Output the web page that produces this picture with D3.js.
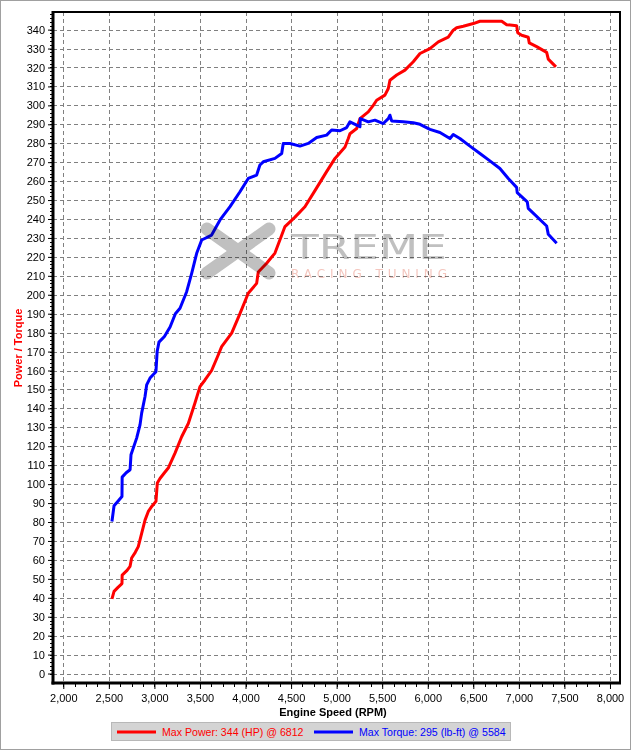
<!DOCTYPE html>
<html lang="en">
<head>
<meta charset="utf-8">
<title>dyno</title>
<script src="https://cdn.jsdelivr.net/npm/d3@7"></script>
<style>
  body { margin: 0; background: #fff; }
  svg { display: block; font-family: "Liberation Sans", Arial, sans-serif; }
  .tick text { font-size: 11px; fill: #000; }
  .grid line { stroke: #808080; stroke-dasharray: 4,3; }
</style>
</head>
<body>
<div id="chart"></div>
<script>
// engine speed (rpm) and power (hp)
var powerRpm = [2534, 2557, 2600, 2644, 2646, 2700, 2733, 2750, 2790, 2823, 2860, 2897, 2933, 2975, 3017, 3032, 3061, 3110, 3152, 3226,
  3299, 3372, 3445, 3500, 3555, 3628, 3690, 3738, 3848, 3939, 4030, 4122, 4140, 4232, 4323, 4378, 4433, 4543, 4652, 4762,
  4890, 4982, 5092, 5128, 5146, 5220, 5256, 5347, 5402, 5439, 5530, 5567, 5585, 5659, 5750, 5841, 5915, 6024, 6116, 6225,
  6280, 6317, 6390, 6500, 6573, 6812, 6866, 6976, 6987, 7031, 7103, 7114, 7195, 7305, 7323, 7407];
var powerHp = [39.4, 43.4, 45.5, 47.5, 52, 54.5, 56.6, 61, 64, 67, 74, 81, 85.6, 88.5, 90.9, 100.6, 103, 106, 108.5, 116.4,
  125, 132, 142.8, 151.5, 155, 160, 167, 172.6, 179.7, 190, 200.8, 206, 212, 216.6, 222, 229, 236, 241, 246.5, 255,
  265, 272, 278, 282.5, 285, 287.8, 293, 296.6, 300, 302.7, 305.4, 308.9, 313.3, 316, 318.6, 323, 327.4, 330, 333.5, 336,
  339.7, 341, 341.8, 343.2, 344.4, 344.4, 342.6, 342, 338.4, 337, 336, 333, 331, 328, 324.4, 320.3];

// engine speed (rpm) and torque (lb-ft)
var torqueRpm = [2534, 2557, 2600, 2644, 2646, 2690, 2733, 2743, 2805, 2842, 2860, 2897, 2915, 2952, 3017, 3030, 3050, 3110, 3172, 3230,
  3281, 3354, 3409, 3464, 3519, 3628, 3720, 3830, 3939, 4030, 4122, 4158, 4195, 4323, 4397, 4414, 4488, 4598, 4689, 4781,
  4890, 4945, 5037, 5110, 5146, 5220, 5256, 5260, 5347, 5420, 5512, 5567, 5585, 5604, 5731, 5841, 5915, 6024, 6134, 6244,
  6280, 6353, 6463, 6573, 6682, 6792, 6884, 6975, 6982, 7092, 7103, 7305, 7323, 7415];
var torqueLbft = [80.3, 88.6, 91, 93.5, 103.7, 106, 107.6, 115.5, 124.3, 131.3, 137.5, 146.3, 152.4, 156, 159.4, 170, 175, 178, 183, 190,
  192.9, 201.6, 211.3, 221.9, 228.9, 231.5, 239.5, 246.5, 254.4, 261.4, 263.2, 268.5, 270.2, 272, 274.6, 279.9, 279.9, 278.5, 279.9, 283,
  284.3, 287, 286.6, 288.3, 291.3, 289.6, 288.7, 293, 291.3, 292.2, 290.4, 293, 294.8, 291.8, 291.3, 290.8, 290, 287.3, 285.7, 282.5,
  284.6, 282.5, 278.5, 274.6, 270.7, 266.7, 261.4, 256.7, 253.9, 249.1, 245.6, 236.3, 231.9, 227.2];

var xTicks = [2000, 2500, 3000, 3500, 4000, 4500, 5000, 5500, 6000, 6500, 7000, 7500, 8000];
var yTicks = d3.range(0, 341, 10);

var legendLabels = ["Max Power: 344 (HP) @ 6812", "Max Torque: 295 (lb-ft) @ 5584"];
var seriesColors = ["#ff0000", "#0000ff"];

var w = 631, h = 750;
var plotLeft = 53, plotRight = 620, plotTop = 12, plotBottom = 683;

var svg = d3.select("#chart").append("svg")
  .attr("width", w)
  .attr("height", h);

// outer frame
svg.append("rect")
  .attr("x", 0.5).attr("y", 0.5)
  .attr("width", w - 1).attr("height", h - 1)
  .attr("fill", "#fff")
  .attr("stroke", "#a0a0a0");

var xScale = d3.scaleLinear().domain([1887, 8110]).range([plotLeft, plotRight]);
var yScale = d3.scaleLinear().domain([-5, 349.3]).range([plotBottom, plotTop]);

// grid
svg.append("g").attr("class", "grid")
  .selectAll("line").data(xTicks).enter().append("line")
  .attr("x1", function(d) { return Math.round(xScale(d)) + 0.5; })
  .attr("x2", function(d) { return Math.round(xScale(d)) + 0.5; })
  .attr("y1", plotTop).attr("y2", plotBottom);

svg.append("g").attr("class", "grid")
  .selectAll("line").data(yTicks).enter().append("line")
  .attr("y1", function(d) { return Math.round(yScale(d)) + 0.5; })
  .attr("y2", function(d) { return Math.round(yScale(d)) + 0.5; })
  .attr("x1", plotLeft).attr("x2", plotRight);

// minor ticks
svg.append("g")
  .selectAll("line").data(d3.range(0, 349, 2)).enter().append("line")
  .attr("x1", plotLeft - 3).attr("x2", plotLeft)
  .attr("y1", function(d) { return Math.round(yScale(d)) + 0.5; })
  .attr("y2", function(d) { return Math.round(yScale(d)) + 0.5; })
  .attr("stroke", "#000");

svg.append("g")
  .selectAll("line").data(d3.range(2000, 8101, 125)).enter().append("line")
  .attr("y1", plotBottom).attr("y2", plotBottom + 4)
  .attr("x1", function(d) { return Math.round(xScale(d)) + 0.5; })
  .attr("x2", function(d) { return Math.round(xScale(d)) + 0.5; })
  .attr("stroke", "#000");

// axes
var xAxis = d3.axisBottom(xScale).tickValues(xTicks).tickFormat(d3.format(",")).tickSize(6).tickPadding(5);
var yAxis = d3.axisLeft(yScale).tickValues(yTicks).tickSize(5).tickPadding(3);

var gx = svg.append("g")
  .attr("transform", "translate(0," + plotBottom + ")")
  .call(xAxis);
gx.select(".domain").remove();
gx.selectAll(".tick text").attr("font-family", null).attr("font-size", null);

var gy = svg.append("g")
  .attr("transform", "translate(" + plotLeft + ",0)")
  .call(yAxis);
gy.select(".domain").remove();
gy.selectAll(".tick text").attr("font-family", null).attr("font-size", null);

// curves
var line = d3.line()
  .x(function(d) { return xScale(d[0]); })
  .y(function(d) { return yScale(d[1]); });

var powerData = d3.zip(powerRpm, powerHp);
var torqueData = d3.zip(torqueRpm, torqueLbft);

svg.append("path")
  .datum(powerData)
  .attr("d", line)
  .attr("fill", "none")
  .attr("stroke", seriesColors[0])
  .attr("stroke-width", 3)
  .attr("stroke-linejoin", "round");

svg.append("path")
  .datum(torqueData)
  .attr("d", line)
  .attr("fill", "none")
  .attr("stroke", seriesColors[1])
  .attr("stroke-width", 3)
  .attr("stroke-linejoin", "round");

// watermark
var wm = svg.append("g").style("mix-blend-mode", "multiply");
wm.append("line")
  .attr("x1", 207).attr("y1", 229).attr("x2", 269).attr("y2", 273)
  .attr("stroke", "#c0c0c0").attr("stroke-width", 13).attr("stroke-linecap", "round");
wm.append("line")
  .attr("x1", 269).attr("y1", 229).attr("x2", 207).attr("y2", 273)
  .attr("stroke", "#c0c0c0").attr("stroke-width", 13).attr("stroke-linecap", "round");
wm.append("text")
  .attr("x", 291).attr("y", 259)
  .attr("textLength", 156).attr("lengthAdjust", "spacingAndGlyphs")
  .attr("font-family", "DejaVu Sans")
  .attr("font-size", 34)
  .attr("fill", "#c0c0c0")
  .text("TREME");
wm.append("text")
  .attr("x", 291).attr("y", 278)
  .attr("textLength", 156).attr("lengthAdjust", "spacing")
  .attr("font-family", "DejaVu Sans")
  .attr("font-size", 12)
  .attr("fill", "#f4c6be")
  .text("RACING TUNING");

// plot frame
svg.append("line").attr("x1", plotLeft).attr("x2", plotLeft).attr("y1", plotTop - 1).attr("y2", plotBottom + 1.5)
  .attr("stroke", "#000").attr("stroke-width", 3);
svg.append("line").attr("x1", plotLeft - 1.5).attr("x2", plotRight + 1).attr("y1", plotBottom).attr("y2", plotBottom)
  .attr("stroke", "#000").attr("stroke-width", 3);
svg.append("line").attr("x1", plotLeft).attr("x2", plotRight + 1).attr("y1", plotTop).attr("y2", plotTop)
  .attr("stroke", "#000").attr("stroke-width", 2);
svg.append("line").attr("x1", plotRight).attr("x2", plotRight).attr("y1", plotTop).attr("y2", plotBottom)
  .attr("stroke", "#000").attr("stroke-width", 2);

// axis titles
svg.append("text")
  .attr("x", 333).attr("y", 716)
  .attr("text-anchor", "middle")
  .attr("font-size", 11)
  .attr("font-weight", "bold")
  .text("Engine Speed (RPM)");

svg.append("text")
  .attr("transform", "translate(22," + 348 + ") rotate(-90)")
  .attr("text-anchor", "middle")
  .attr("font-size", 11)
  .attr("font-weight", "bold")
  .attr("fill", "#ff0000")
  .text("Power / Torque");

// legend
var lg = svg.append("g");
lg.append("rect")
  .attr("x", 111.5).attr("y", 722.5)
  .attr("width", 399).attr("height", 18)
  .attr("fill", "#d4d4d4")
  .attr("stroke", "#b8b8b8");

var legendX = [117, 314];
legendLabels.forEach(function(label, i) {
  lg.append("line")
    .attr("x1", legendX[i]).attr("x2", legendX[i] + 39)
    .attr("y1", 732).attr("y2", 732)
    .attr("stroke", seriesColors[i]).attr("stroke-width", 3);
  lg.append("text")
    .attr("x", legendX[i] + 45).attr("y", 736)
    .attr("font-size", 10.6)
    .attr("fill", seriesColors[i])
    .text(label);
});
</script>
</body>
</html>
